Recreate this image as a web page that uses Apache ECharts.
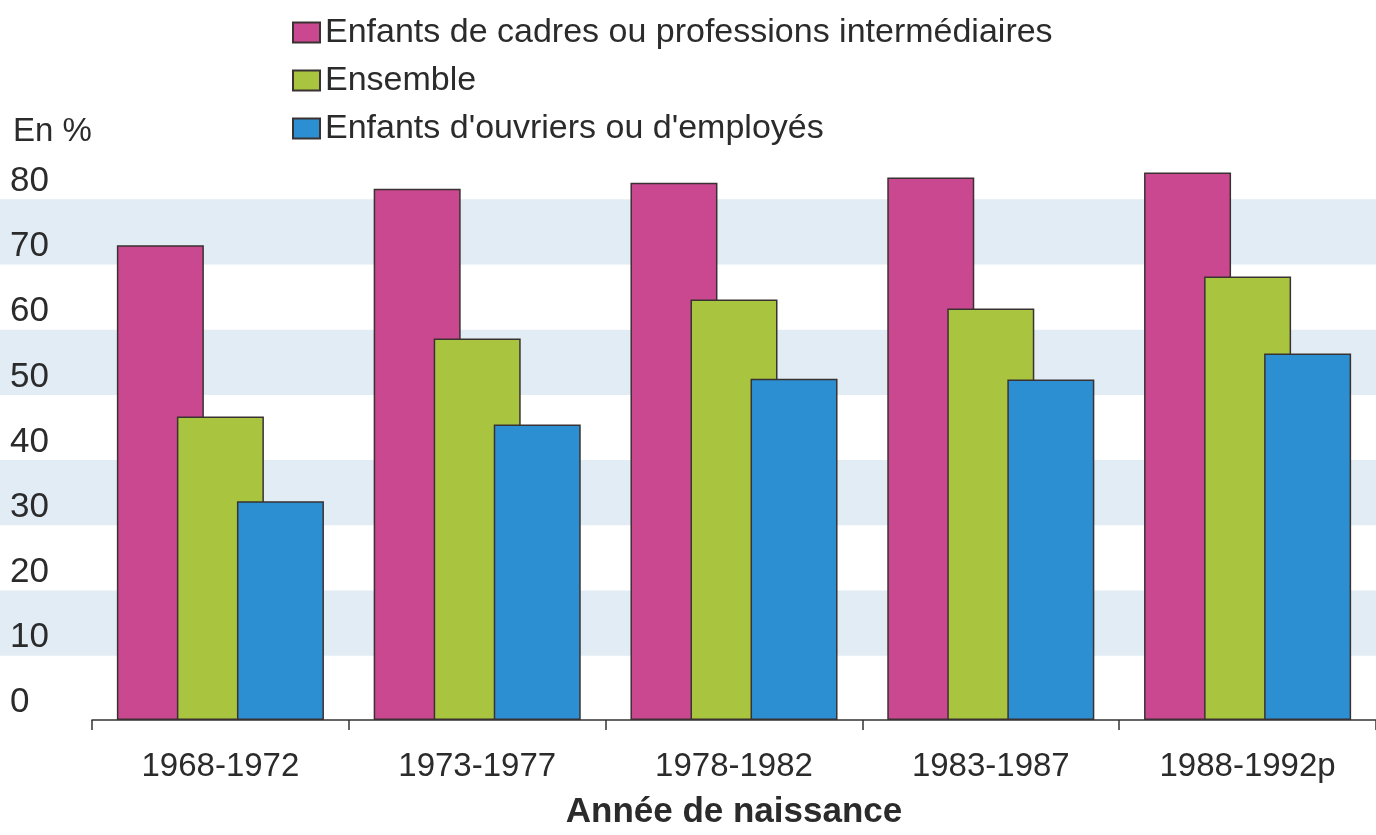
<!DOCTYPE html>
<html>
<head>
<meta charset="utf-8">
<title>Enfants - Année de naissance</title>
<script src="https://cdn.jsdelivr.net/npm/echarts@6/dist/echarts.min.js"></script>
<style>
  html, body { margin: 0; padding: 0; background: #fff; }
  #chart { width: 1376px; height: 835px; }
</style>
</head>
<body>
<div id="chart"></div>
<script>
  // données (en %)
  var periodes = ['1968-1972', '1973-1977', '1978-1982', '1983-1987', '1988-1992p']
  var cadres = [72.9, 81.6, 82.5, 83.3, 84.1]
  var ensemble = [46.6, 58.6, 64.6, 63.2, 68.1]
  var ouvriers = [33.6, 45.4, 52.4, 52.3, 56.3]
  var nomsSeries = [
    'Enfants de cadres ou professions intermédiaires',
    'Ensemble',
    "Enfants d'ouvriers ou d'employés"
  ]

  var police = "'Liberation Sans', Arial, sans-serif"
  var texte = '#2b2b2b'

  var chart = echarts.init(document.getElementById('chart'))

  function barre(nom, data, couleur) {
    return {
      name: nom,
      type: 'bar',
      xAxisIndex: 1,
      yAxisIndex: 1,
      data: data,
      barWidth: 87,
      barGap: '-31%',
      itemStyle: {
        color: couleur,
        borderColor: '#3a3232',
        borderWidth: 1.5
      }
    }
  }

  chart.setOption({
    animation: false,
    textStyle: { fontFamily: police, color: texte },
    title: {
      text: 'En %',
      left: 8,
      top: 110,
      textStyle: { fontFamily: police, fontSize: 33, fontWeight: 'normal', color: texte }
    },
    legend: {
      orient: 'vertical',
      left: 287,
      top: 8,
      icon: 'rect',
      itemWidth: 27,
      itemHeight: 20,
      itemGap: 9,
      data: nomsSeries,
      textStyle: { fontFamily: police, fontSize: 34, color: texte, lineHeight: 39, padding: [0, 0, 0, 0] }
    },
    grid: [
      // bandes de fond sur toute la largeur
      { left: 0, right: 0, top: 134, bottom: 114 },
      { left: 92, right: -8, top: 134, bottom: 114 }
    ],
    xAxis: [
      { gridIndex: 0, type: 'value', show: false },
      {
        gridIndex: 1,
        type: 'category',
        data: periodes,
        axisLine: { lineStyle: { color: '#333', width: 1.5 } },
        axisTick: { show: true, length: 10, lineStyle: { color: '#333', width: 1.5 } },
        axisLabel: { interval: 0, fontFamily: police, fontSize: 33, color: texte, margin: 30 },
        name: 'Année de naissance',
        nameLocation: 'middle',
        nameGap: 75,
        nameTextStyle: { fontFamily: police, fontSize: 35, fontWeight: 'bold', color: texte }
      }
    ],
    yAxis: [
      {
        gridIndex: 0,
        type: 'value',
        min: 0,
        max: 90,
        interval: 10,
        axisLine: { show: false },
        axisTick: { show: false },
        axisLabel: { show: false },
        splitLine: { show: false },
        splitArea: { show: true, areaStyle: { color: ['rgba(255,255,255,0)', '#e2ecf5'] } }
      },
      {
        gridIndex: 1,
        type: 'value',
        min: 0,
        max: 90,
        interval: 10,
        axisLine: { show: false },
        axisTick: { show: false },
        splitLine: { show: false },
        axisLabel: {
          fontFamily: police,
          fontSize: 35,
          color: texte,
          align: 'left',
          verticalAlign: 'bottom',
          margin: 82,
          formatter: function (v) { return v > 80 ? '' : v }
        }
      }
    ],
    series: [
      barre(nomsSeries[0], cadres, '#c9488f'),
      barre(nomsSeries[1], ensemble, '#a9c540'),
      barre(nomsSeries[2], ouvriers, '#2b8fd1')
    ]
  })
</script>
</body>
</html>
